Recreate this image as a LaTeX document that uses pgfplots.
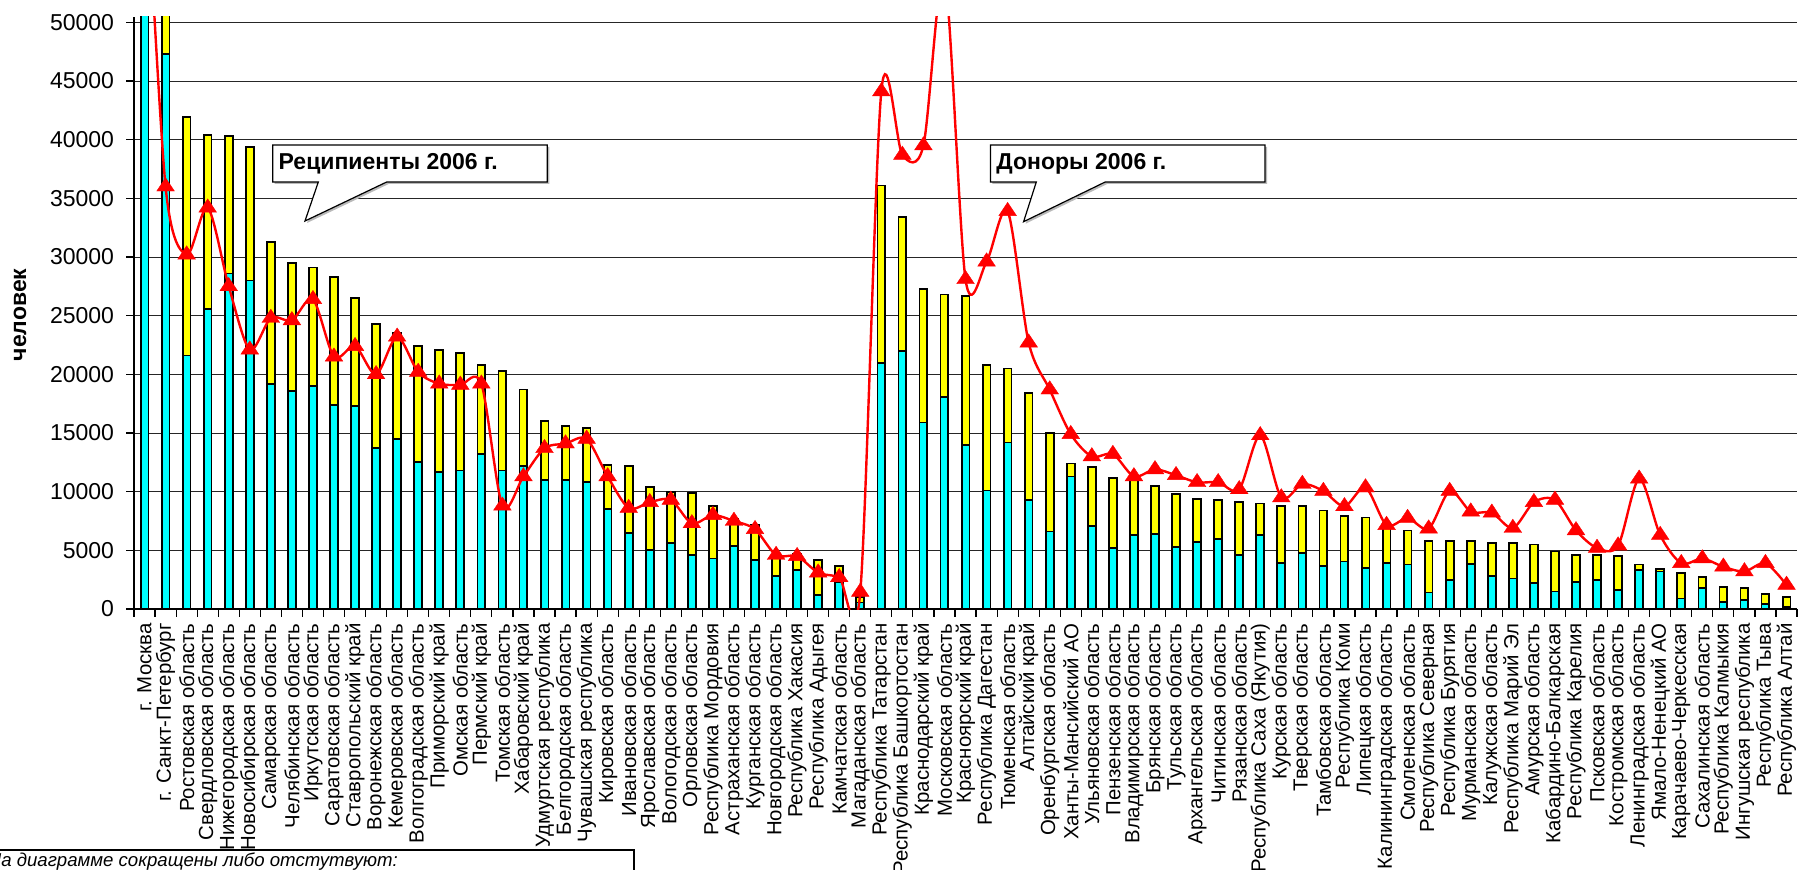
\documentclass[border=0pt]{standalone}
\usepackage{pgfplots}
\pgfplotsset{compat=1.18}
\usepackage{pgfplotstable}
\usepackage{fontspec}
\setmainfont{Liberation Sans}

\definecolor{barcyan}{RGB}{0,255,255}
\definecolor{baryellow}{RGB}{255,255,0}
\definecolor{linered}{RGB}{255,0,0}

% x = region number, cyan = lower part, yellow = upper part, tri = red line
\pgfplotstableread{
x cyan yellow tri
1 60000 10000 66000
2 47300 12700 36000
3 21600 20300 30200
4 25600 14800 34200
5 28600 11700 27500
6 28000 11400 22100
7 19200 12100 24800
8 18600 10900 24600
9 19000 10100 26400
10 17400 10900 21500
11 17300 9200 22400
12 13700 10600 20000
13 14500 9000 23200
14 12500 9900 20200
15 11700 10400 19200
16 11800 10000 19100
17 13200 7600 19200
18 11800 8500 8800
19 12200 6500 11300
20 11000 5000 13700
21 11000 4600 14100
22 10800 4600 14500
23 8500 3800 11300
24 6500 5700 8600
25 5000 5400 9100
26 5600 4400 9300
27 4600 5300 7300
28 4300 4500 8000
29 5400 2300 7500
30 4200 3000 6800
31 2800 1800 4600
32 3300 1400 4500
33 1200 3000 3100
34 2300 1400 2700
35 550 450 1450
36 21000 15100 44100
37 22000 11400 38700
38 15900 11400 39500
39 18100 8700 54000
40 14000 12700 28100
41 10100 10700 29600
42 14200 6300 33900
43 9300 9100 22700
44 6600 8400 18700
45 11300 1100 14900
46 7100 5000 13000
47 5200 6000 13200
48 6300 4700 11300
49 6400 4100 11900
50 5300 4500 11400
51 5700 3700 10800
52 6000 3300 10800
53 4600 4500 10200
54 6300 2700 14800
55 3900 4900 9500
56 4800 4000 10650
57 3700 4700 10050
58 4050 3850 8750
59 3500 4300 10350
60 3900 3400 7150
61 3800 2900 7750
62 1400 4400 6850
63 2450 3350 10050
64 3850 1950 8300
65 2800 2850 8200
66 2600 3000 6900
67 2200 3300 9100
68 1500 3400 9300
69 2300 2300 6700
70 2500 2100 5200
71 1600 2900 5400
72 3300 500 11100
73 3200 200 6300
74 900 2200 3900
75 1800 900 4300
76 600 1300 3600
77 800 1000 3200
78 450 850 3900
79 170 830 2050
}\regions

\begin{document}
\begin{tikzpicture}
\begin{axis}[
  at={(0,0)}, anchor=south west, scale only axis,
  width=831.5bp, height=296.15bp,
  xmin=0.5, xmax=79.5, ymin=0, ymax=50480,
  axis x line*=bottom, axis y line*=left,
  axis line style={black, line width=0.6bp},
  ytick={0,5000,...,50000}, scaled y ticks=false,
  ymajorgrids, major grid style={black!85, line width=0.5bp},
  xtick={0.5,1.5,...,79.5}, xticklabels={},
  extra x ticks={1,...,79},
  extra x tick labels={г. Москва, г. Санкт-Петербург, Ростовская область, Свердловская область, Нижегородская область, Новосибирская область, Самарская область, Челябинская область, Иркутская область, Саратовская область, Ставропольский край, Воронежская область, Кемеровская область, Волгоградская область, Приморский край, Омская область, Пермский край, Томская область, Хабаровский край, Удмуртская республика, Белгородская область, Чувашская республика, Кировская область, Ивановская область, Ярославская область, Вологодская область, Орловская область, Республика Мордовия, Астраханская область, Курганская область, Новгородская область, Республика Хакасия, Республика Адыгея, Камчатская область, Магаданская область, Республика Татарстан, Республика Башкортостан, Краснодарский край, Московская область, Красноярский край, Республика Дагестан, Тюменская область, Алтайский край, Оренбургская область, Ханты-Мансийский АО, Ульяновская область, Пензенская область, Владимирская область, Брянская область, Тульская область, Архангельская область, Читинская область, Рязанская область, Республика Саха (Якутия), Курская область, Тверская область, Тамбовская область, Республика Коми, Липецкая область, Калининградская область, Смоленская область, Республика Северная, Республика Бурятия, Мурманская область, Калужская область, Республика Марий Эл, Амурская область, Кабардино-Балкарская, Республика Карелия, Псковская область, Костромская область, Ленинградская область, Ямало-Ненецкий АО, Карачаево-Черкесская, Сахалинская область, Республика Калмыкия, Ингушская республика, Республика Тыва, Республика Алтай},
  extra x tick style={major tick length=0pt,
    tick label style={font=\fontsize{10.2bp}{12bp}\selectfont, yshift=-7bp, rotate=90, anchor=east, inner sep=0pt}},
  tick align=outside, major tick length=3.8bp,
  tick style={black, line width=0.6bp},
  yticklabel style={font=\fontsize{11.5bp}{13bp}\selectfont, inner sep=0pt, xshift=-6bp},
  /pgf/number format/1000 sep={}, /pgf/number format/assume math mode=true,
  ybar stacked, bar width=3.9bp,
]
\addplot[fill=barcyan, draw=black, line width=0.9bp] table[x=x,y=cyan]{\regions};
\addplot[fill=baryellow, draw=black, line width=0.9bp] table[x=x,y=yellow]{\regions};
\end{axis}

\begin{axis}[
  at={(0,0)}, anchor=south west, scale only axis,
  width=831.5bp, height=296.15bp,
  xmin=0.5, xmax=79.5, ymin=0, ymax=50480,
  hide axis,
]
\addplot[linered, line width=1.2bp, smooth, mark=triangle*, mark size=5.1bp,
  mark options={fill=linered, draw=linered, line width=0.2bp, yscale=0.87}] table[x=x,y=tri]{\regions};
\end{axis}

\begin{scope}[x=0.5bp, y=-0.5bp, shift={(-67bp,304.5bp)}]
  % callouts
  \fill[gray!55] (274.7,147) -- (549.3,147) -- (549.3,184) -- (388.7,184) -- (307,223) -- (320.3,184) -- (274.7,184) -- cycle;
  \draw[black, line width=0.6bp, fill=white] (272.7,145) -- (547.3,145) -- (547.3,182) -- (386.7,182) -- (305,221) -- (318.3,182) -- (272.7,182) -- cycle;
  \node[anchor=base west, inner sep=0pt, font=\bfseries\fontsize{11.5bp}{13bp}\selectfont] at (278.3,169.3) {Реципиенты 2006 г.};
  \fill[gray!55] (992.4,147) -- (1267,147) -- (1267,184) -- (1107.2,184) -- (1025.6,223.7) -- (1038.3,184) -- (992.4,184) -- cycle;
  \draw[black, line width=0.6bp, fill=white] (990.4,145) -- (1265,145) -- (1265,182) -- (1105.2,182) -- (1023.6,221.7) -- (1036.3,182) -- (990.4,182) -- cycle;
  \node[anchor=base west, inner sep=0pt, font=\bfseries\fontsize{11.5bp}{13bp}\selectfont] at (996,169.3) {Доноры 2006 г.};
  % y label
  \node[rotate=90, inner sep=0pt, font=\bfseries\fontsize{11.5bp}{13bp}\selectfont] at (20,315) {человек};
  % note box at the bottom
  \draw[black, line width=0.7bp] (-5,850) -- (634,850) -- (634,880);
  \node[anchor=base west, inner sep=0pt, font=\itshape\fontsize{9.3bp}{11bp}\selectfont] at (-12.5,866) {На диаграмме сокращены либо отстутвуют:};
  \pgfresetboundingbox
  \path[use as bounding box] (0,0) rectangle (1798,870);
\end{scope}
\end{tikzpicture}
\end{document}
